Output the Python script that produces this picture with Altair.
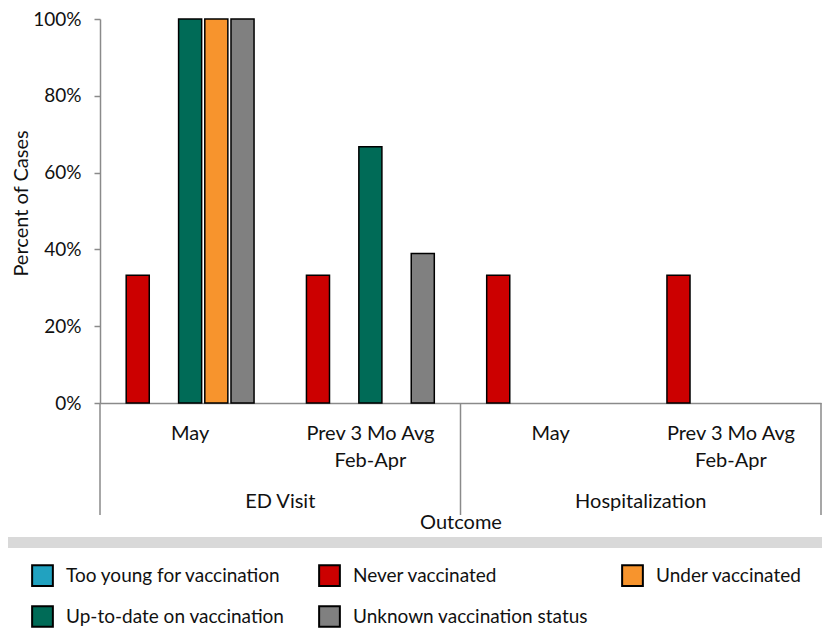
import altair as alt
import pandas as pd

# ---------------- data ----------------
outcomes = ["ED Visit", "Hospitalization"]
periods = ["May", "Prev 3 Mo Avg\nFeb-Apr"]
statuses = [
    "Too young for vaccination",
    "Never vaccinated",
    "Up-to-date on vaccination",
    "Under vaccinated",
    "Unknown vaccination status",
]
# share of cases, one list per outcome/period, in the order of `statuses`
ed_may = [0.0, 0.333, 1.0, 1.0, 1.0]
ed_prev = [0.0, 0.333, 0.667, 0.0, 0.389]
hosp_may = [0.0, 0.333, 0.0, 0.0, 0.0]
hosp_prev = [0.0, 0.333, 0.0, 0.0, 0.0]

# bar slot order inside each category (two unused series keep the Excel spacing)
slot_order = [
    "Too young for vaccination",
    "Never vaccinated",
    "(unused series 1)",
    "Up-to-date on vaccination",
    "Under vaccinated",
    "Unknown vaccination status",
    "(unused series 2)",
]
legend_order = [
    "Too young for vaccination",
    "Never vaccinated",
    "Under vaccinated",
    "Up-to-date on vaccination",
    "Unknown vaccination status",
]
legend_colors = ["#21A2C0", "#CC0000", "#F7942D", "#006B57", "#808080"]

y_ticks = [0, 0.2, 0.4, 0.6, 0.8, 1.0]

# ---------------- tables ----------------
series = {
    (outcomes[0], periods[0]): ed_may,
    (outcomes[0], periods[1]): ed_prev,
    (outcomes[1], periods[0]): hosp_may,
    (outcomes[1], periods[1]): hosp_prev,
}
keys = [f"{o}|{p}" for o in outcomes for p in periods]
rows = []
for (o, p), vals in series.items():
    for s, v in zip(statuses, vals):
        rows.append({"key": f"{o}|{p}", "status": s, "value": v})
df = pd.DataFrame(rows)

grp_df = pd.DataFrame({"label": outcomes, "key": [f"{o}|{periods[1]}" for o in outcomes]})
div_start_df = pd.DataFrame({"key": [f"{o}|{periods[0]}" for o in outcomes]})
div_end_df = pd.DataFrame({"key": [keys[-1]]})
band_df = pd.DataFrame({"band": [1]})

FONT = "Lato"
TXT = "#111111"
GRAY = "#8A8A8A"
W, H = 721, 384

xscale = alt.Scale(domain=keys, paddingInner=0, paddingOuter=0)
x_axis = alt.Axis(
    labelExpr="split(split(datum.value, '|')[1], '\\n')",
    labelAngle=0,
    labelFont=FONT,
    labelFontSize=20,
    labelLineHeight=27,
    labelBaseline="alphabetic",
    labelColor=TXT,
    ticks=False,
    tickSize=0,
    labelPadding=36,
    domainColor=GRAY,
    domainWidth=1.5,
    titleFont=FONT,
    titleFontSize=20,
    titleFontWeight="normal",
    titleColor=TXT,
    titleY=125,
    titleBaseline="alphabetic",
)

bars = (
    alt.Chart(df)
    .transform_filter("datum.value > 0")
    .mark_bar(stroke="black", strokeWidth=1.5)
    .encode(
        x=alt.X("key:N", scale=xscale, title="Outcome", axis=x_axis),
        xOffset=alt.XOffset(
            "status:N",
            scale=alt.Scale(domain=slot_order, paddingInner=0.12, paddingOuter=0),
        ),
        y=alt.Y(
            "value:Q",
            scale=alt.Scale(domain=[0, 1]),
            title="Percent of Cases",
            axis=alt.Axis(
                values=y_ticks,
                format=".0%",
                grid=False,
                domainColor=GRAY,
                domainWidth=1.5,
                tickColor=GRAY,
                tickWidth=1.5,
                tickSize=6,
                labelPadding=13,
                labelFont=FONT,
                labelFontSize=19,
                labelColor=TXT,
                titleFont=FONT,
                titleFontSize=20,
                titleFontWeight="normal",
                titleColor=TXT,
                titleX=-73,
                titleY=184,
                titleBaseline="alphabetic",
            ),
        ),
        color=alt.Color(
            "status:N",
            scale=alt.Scale(domain=legend_order, range=legend_colors),
            legend=alt.Legend(
                orient="none",
                legendX=-69,
                legendY=545,
                direction="horizontal",
                columns=3,
                title=None,
                symbolType="square",
                symbolSize=430,
                symbolStrokeColor="black",
                symbolStrokeWidth=2,
                labelFont=FONT,
                labelFontSize=19,
                labelColor=TXT,
                labelOffset=12,
                labelLimit=400,
                columnPadding=30,
                rowPadding=12,
                padding=0,
            ),
        ),
    )
)

group_labels = (
    alt.Chart(grp_df)
    .mark_text(font=FONT, fontSize=20, baseline="alphabetic", color=TXT)
    .encode(
        x=alt.X("key:N", scale=xscale, bandPosition=0, title="Outcome", axis=x_axis),
        y=alt.value(489),
        text="label:N",
    )
)

div_start = (
    alt.Chart(div_start_df)
    .mark_rule(color=GRAY, strokeWidth=1.5)
    .encode(
        x=alt.X("key:N", scale=xscale, bandPosition=0, title="Outcome", axis=x_axis),
        y=alt.value(H),
        y2=alt.value(H + 112),
    )
)
div_end = (
    alt.Chart(div_end_df)
    .mark_rule(color=GRAY, strokeWidth=1.5)
    .encode(
        x=alt.X("key:N", scale=xscale, bandPosition=1, title="Outcome", axis=x_axis),
        y=alt.value(H),
        y2=alt.value(H + 112),
    )
)

band = (
    alt.Chart(band_df)
    .mark_rect(color="#D9D9D9")
    .encode(
        x=alt.value(-92),
        x2=alt.value(W + 1),
        y=alt.value(518),
        y2=alt.value(529),
    )
)

chart = (
    alt.layer(band, div_start, div_end, group_labels, bars)
    .properties(
        width=W,
        height=H,
        autosize=alt.AutoSizeParams(type="none"),
        padding={"left": 92, "top": 11, "right": 1, "bottom": 227},
        background="white",
    )
    .configure_view(stroke=None)
)

chart.save("out.html", embed_options={"renderer": "svg", "actions": False})
